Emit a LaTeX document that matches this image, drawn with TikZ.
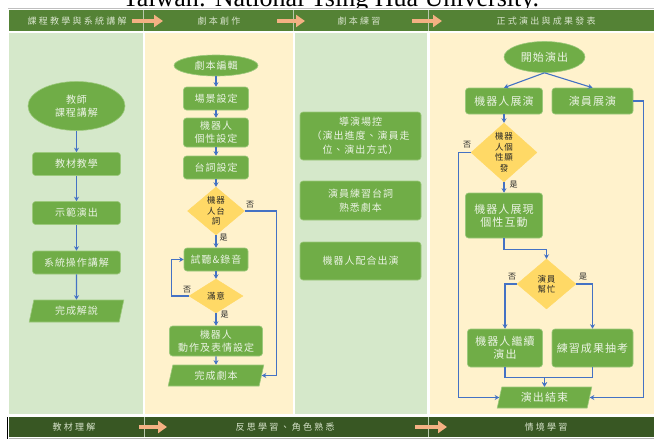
\documentclass[tikz,border=0pt]{standalone}
\usepackage{fontspec}
\usetikzlibrary{shapes.geometric, arrows.meta}
\newfontfamily\cjk[LetterSpace=10]{Noto Sans CJK TC}
\newfontfamily\cjkwide[LetterSpace=25]{Noto Sans CJK TC}
\newfontfamily\cjkn[LetterSpace=8]{Noto Sans CJK TC}
\newfontfamily\titlefont{Liberation Serif}

\definecolor{headgreen}{HTML}{548235}
\definecolor{footgreen}{HTML}{385723}
\definecolor{bggreen}{HTML}{D5E8CA}
\definecolor{bgyellow}{HTML}{FFF2CC}
\definecolor{boxgreen}{HTML}{70AD47}
\definecolor{boxline}{HTML}{9CC97C}
\definecolor{boxtext}{HTML}{EBF3E4}
\definecolor{gold}{HTML}{FFD966}
\definecolor{flowblue}{HTML}{4472C4}
\definecolor{peach}{HTML}{F4B183}
\definecolor{bartext}{HTML}{D8E4CC}
\definecolor{barline}{HTML}{B9C9AC}

\begin{document}
\begin{tikzpicture}[x=1pt, y=-1pt,
    box/.style={rectangle, rounded corners=3pt, fill=boxgreen, draw=boxline, line width=0.6pt,
        text=boxtext, align=center, inner sep=0pt, font=\cjk\fontsize{10}{13}\selectfont},
    bigbox/.style={box, font=\cjk\fontsize{11}{13}\selectfont},
    term/.style={box, ellipse},
    io/.style={box, trapezium, trapezium left angle=76, trapezium right angle=104,
        trapezium stretches=true, sharp corners},
    decide/.style={diamond, fill=gold, draw=gold, inner sep=0pt},
    dtxt/.style={align=center, inner sep=0pt, text=black!85, font=\cjkn\fontsize{8.5}{10.5}\selectfont},
    yn/.style={inner sep=0pt, text=black!85, font=\cjkn\fontsize{8}{9}\selectfont},
    flow/.style={draw=flowblue, line width=1.1pt, -{Stealth[length=4.5pt, width=5pt]}},
    bararrow/.style={draw=peach, line width=4pt, -{Triangle[length=9pt, width=12pt]}},
    bartxt/.style={text=bartext, font=\cjkwide\fontsize{9}{9}\selectfont},
]
    \useasboundingbox (0,0) rectangle (654,439);

    % caption line above the chart
    \node[anchor=base, inner sep=0pt, font=\titlefont\fontsize{26}{30}\selectfont] (title) at (331,6.5)
        {Taiwan: National Tsing Hua University.};
    \fill[white] (0,7.5) rectangle (654,439);
    \draw[gray!50, line width=0.8pt] (8,8.3) -- (654,8.3);

    % columns
    \fill[bggreen]  (9,33) rectangle (142.5,414);
    \fill[bgyellow] (145,33) rectangle (292.5,414);
    \fill[bggreen]  (295,33) rectangle (427,414);
    \fill[bgyellow] (429.5,33) rectangle (654,414);

    % header bar
    \fill[headgreen] (9,10) rectangle (654,31);
    \foreach \x in {143.5,293.5,428.5}
        \draw[barline, line width=0.6pt] (\x,10) -- (\x,31);
    \node[bartxt] (h1) at (77,21) {課程教學與系統講解};
    \node[bartxt] (h2) at (219,21) {劇本創作};
    \node[bartxt] (h3) at (359,21) {劇本練習};
    \node[bartxt] (h4) at (546,21) {正式演出與成果發表};
    \draw[bararrow] (132,21) -- (163,21);
    \draw[bararrow] (277,21) -- (305,21);
    \draw[bararrow] (412,21) -- (442,21);

    % footer bar
    \fill[footgreen] (9,417) rectangle (654,437);
    \draw[gray!60, line width=0.8pt] (9,438) -- (654,438);
    \draw[black, line width=0.8pt] (7.5,417) -- (7.5,439);
    \foreach \x in {144,428}
        \draw[barline, line width=0.6pt] (\x,417) -- (\x,437);
    \node[bartxt] (f1) at (74,427) {教材理解};
    \node[bartxt] (f2) at (285,427) {反思學習、角色熟悉};
    \node[bartxt] (f3) at (546,427) {情境學習};
    \draw[bararrow] (139,427) -- (167,427);
    \draw[bararrow] (415,427) -- (447,427);

    % first column: lecture
    \node[term, minimum width=97pt, minimum height=49pt] (e1) at (76.5,106) {教師\\課程講解};
    \node[box, minimum width=88pt, minimum height=23pt] (b1) at (76.5,164) {教材教學};
    \node[box, minimum width=88pt, minimum height=23pt] (b2) at (76.5,213) {示範演出};
    \node[box, minimum width=88pt, minimum height=23pt] (b3) at (76.5,262.5) {系統操作講解};
    \node[io, minimum width=95pt, minimum height=22pt] (io1) at (76.5,311) {完成解說};
    \draw[flow] (e1) -- (b1);
    \draw[flow] (b1) -- (b2);
    \draw[flow] (b2) -- (b3);
    \draw[flow] (b3) -- (io1);

    % second column: script writing
    \node[term, minimum width=84pt, minimum height=21pt] (s0) at (216,65.5) {劇本編輯};
    \node[box, minimum width=65pt, minimum height=23pt] (s1) at (216,98.5) {場景設定};
    \node[box, minimum width=65pt, minimum height=29pt] (s2) at (216,132.5) {機器人\\個性設定};
    \node[box, minimum width=65pt, minimum height=23pt] (s3) at (216,167.5) {台詞設定};
    \node[decide, minimum width=57pt, minimum height=48pt,
        label={[dtxt]center:{機器\\人台\\詞}}] (d1) at (216,211) {};
    \node[box, minimum width=64pt, minimum height=23pt] (s4) at (216,259.5) {試聽\&錄音};
    \node[decide, minimum width=54pt, minimum height=34pt,
        label={[dtxt]center:{滿意}}] (d2) at (216,296) {};
    \node[box, minimum width=93pt, minimum height=30pt] (s5) at (216,341) {機器人\\動作及表情設定};
    \node[io, minimum width=96pt, minimum height=21pt] (io2) at (216,375.5) {完成劇本};
    \draw[flow] (s0) -- (s1);
    \draw[flow] (s1) -- (s2);
    \draw[flow] (s2) -- (s3);
    \draw[flow] (s3) -- (d1);
    \draw[flow] (d1) -- (s4);
    \draw[flow] (s4) -- (d2);
    \draw[flow] (d2) -- (s5);
    \draw[flow] (s5) -- (io2);
    \draw[flow] (d1.east) -- ++(31.5,0) |- (io2.east);
    \draw[flow] (d2.west) -- ++(-17,0) |- (s4.west);
    \node[yn] (n1) at (250,205) {否};
    \node[yn] (y1) at (223.5,238) {是};
    \node[yn] (n2) at (187,290) {否};
    \node[yn] (y2) at (224.5,315) {是};

    % third column: rehearsal
    \node[box, minimum width=121pt, minimum height=48pt, font=\cjk\fontsize{10}{14}\selectfont] (c1) at (360.5,136)
        {導演場控\\（演出進度、演員走\\位、演出方式）};
    \node[box, minimum width=121pt, minimum height=39pt, font=\cjk\fontsize{10}{14}\selectfont] (c2) at (360.5,200.5)
        {演員練習台詞\\熟悉劇本};
    \node[box, minimum width=121pt, minimum height=38pt] (c3) at (360.5,261) {機器人配合出演};

    % fourth column: performance
    \node[term, minimum width=81pt, minimum height=31pt, font=\cjk\fontsize{11}{13}\selectfont] (p0) at (544.5,57) {開始演出};
    \node[bigbox, minimum width=77pt, minimum height=26pt] (p1) at (504,101) {機器人展演};
    \node[bigbox, minimum width=81pt, minimum height=26pt] (p2) at (592.5,101) {演員展演};
    \node[decide, minimum width=66pt, minimum height=59pt,
        label={[dtxt]center:{機器\\人個\\性顯\\發}}] (d3) at (504,152.5) {};
    \node[bigbox, minimum width=77pt, minimum height=45pt] (p3) at (504,215.5) {機器人展現\\個性互動};
    \node[decide, minimum width=59pt, minimum height=50pt,
        label={[dtxt]center:{演員\\幫忙}}] (d4) at (546.5,284) {};
    \node[bigbox, minimum width=75pt, minimum height=38pt] (p4) at (505,348) {機器人繼續\\演出};
    \node[bigbox, minimum width=81pt, minimum height=38pt] (p5) at (592.5,348) {練習成果抽考};
    \node[io, minimum width=95pt, minimum height=21pt, font=\cjk\fontsize{11}{13}\selectfont] (io3) at (544.5,397.5) {演出結束};
    \draw[flow] (p0.south) -- (p1.north);
    \draw[flow] (p0.south) -- (p2.north);
    \draw[flow] (p1) -- (d3);
    \draw[flow] (d3) -- (p3);
    \draw[flow] (p3.south) -- ++(0,11) -| (d4.north);
    \draw[flow] (d4.west) -| (p4.north);
    \draw[flow] (d4.east) -| (p5.north);
    \draw[flow] (p4.south) -- ++(0,10) -| (io3.north);
    \draw[flow] (p5.south) -- ++(0,10) -| (io3.north);
    \draw[flow] (d3.west) -- ++(-12,0) |- (io3.west);
    \draw[flow] (p2.east) -- ++(10,0) |- (io3.east);
    \node[yn] (n3) at (467,145) {否};
    \node[yn] (y3) at (513.5,185) {是};
    \node[yn] (n4) at (512,277) {否};
    \node[yn] (y4) at (583,277) {是};
\end{tikzpicture}
\end{document}
